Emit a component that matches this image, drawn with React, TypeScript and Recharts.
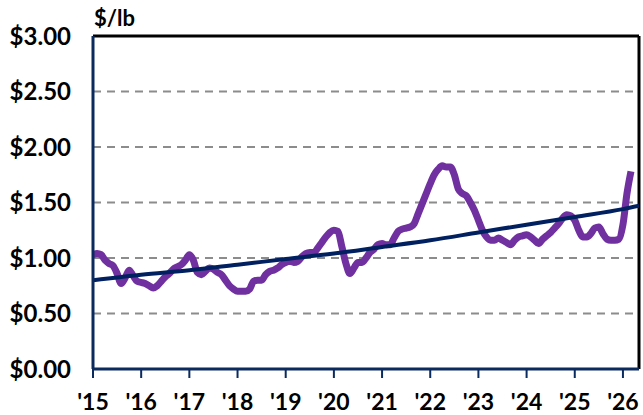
import { LineChart, Line, XAxis, YAxis, CartesianGrid, ReferenceLine } from "recharts";

// monthly price, Jan 2015 .. Mar 2026 ($/lb)
const prices = [
  1.03, 1.04, 1.03, 0.98, 0.95, 0.93, 0.86, 0.77, 0.82, 0.89, 0.84, 0.79,
  0.78, 0.77, 0.75, 0.73, 0.75, 0.79, 0.83, 0.86, 0.9, 0.92, 0.94, 0.98,
  1.03, 0.98, 0.87, 0.85, 0.88, 0.91, 0.9, 0.87, 0.85, 0.8, 0.75, 0.72,
  0.7, 0.7, 0.7, 0.72, 0.79, 0.8, 0.8, 0.85, 0.88, 0.89, 0.91, 0.94,
  0.96, 0.97, 0.96, 0.97, 1.01, 1.04, 1.05, 1.05, 1.09, 1.14, 1.19, 1.23,
  1.25, 1.24, 1.1, 0.95, 0.86, 0.91, 0.96, 0.96, 1.0, 1.05, 1.08, 1.12,
  1.13, 1.12, 1.12, 1.18, 1.24, 1.26, 1.27, 1.28, 1.31, 1.4, 1.49, 1.58,
  1.67, 1.75, 1.8, 1.83, 1.82, 1.82, 1.75, 1.62, 1.58, 1.56, 1.5, 1.43,
  1.34, 1.25, 1.19, 1.16, 1.16, 1.18, 1.16, 1.14, 1.12, 1.16, 1.19, 1.2,
  1.21, 1.19, 1.16, 1.13, 1.17, 1.2, 1.23, 1.27, 1.31, 1.36, 1.39, 1.38,
  1.34, 1.25, 1.19, 1.19, 1.22, 1.27, 1.28, 1.22, 1.17, 1.16, 1.16, 1.17,
  1.3, 1.58, 1.78,
];

// trend line, read at each January plus the right edge
const trendMonths = [0, 12, 24, 36, 48, 60, 72, 84, 96, 108, 120, 132, 136];
const trendValues = [0.8, 0.85, 0.89, 0.94, 0.99, 1.04, 1.1, 1.16, 1.23, 1.3, 1.37, 1.44, 1.47];

const yTicks = [0, 0.5, 1, 1.5, 2, 2.5, 3];
const xTicks = [0, 12, 24, 36, 48, 60, 72, 84, 96, 108, 120, 132];
const yearLabels = ["'15", "'16", "'17", "'18", "'19", "'20", "'21", "'22", "'23", "'24", "'25", "'26"];

const priceData = prices.map((v, i) => ({ m: i, price: v }));
const trendData = trendMonths.map((m, i) => ({ m, trend: trendValues[i] }));

const FONT = "Lato, 'Open Sans', sans-serif";

const YearTick = (props: any) => {
  const { x, y, payload } = props;
  return (
    <text
      x={x}
      y={y}
      dy={32}
      textAnchor="middle"
      fontSize={23}
      fontWeight={700}
      fill="#000"
      fontFamily={FONT}
    >
      {yearLabels[payload.value / 12]}
    </text>
  );
};

export default function App() {
  return (
    <div style={{ position: "absolute", left: 0, top: 0, width: 643, height: 415, background: "#fff", fontFamily: FONT }}>
      <div
        style={{
          position: "absolute",
          left: 94,
          top: 4,
          fontSize: 22,
          fontWeight: 700,
          color: "#000",
        }}
      >
        $/lb
      </div>
      <LineChart width={643} height={415} margin={{ top: 36, right: 4, left: 0, bottom: 0 }}>
        <CartesianGrid
          horizontal
          vertical={false}
          stroke="#8c8c8c"
          strokeWidth={2}
          strokeDasharray="8 6"
        />
        <XAxis
          dataKey="m"
          type="number"
          domain={[0, 136]}
          ticks={xTicks}
          allowDataOverflow
          height={46}
          axisLine={{ stroke: "#0b2a5e", strokeWidth: 3 }}
          tickLine={{ stroke: "#0b2a5e", strokeWidth: 2 }}
          tickSize={9}
          tickMargin={0}
          tick={<YearTick />}
        />
        <YAxis
          domain={[0, 3]}
          ticks={yTicks}
          width={93}
          tickFormatter={(v: number) => `$${v.toFixed(2)}`}
          axisLine={{ stroke: "#0b2a5e", strokeWidth: 3 }}
          tickLine={false}
          tickSize={0}
          tickMargin={22}
          tick={{ fontSize: 24, fontWeight: 700, fill: "#000", fontFamily: FONT }}
        />
        <ReferenceLine y={3} stroke="#000" strokeWidth={3} />
        <ReferenceLine x={136} stroke="#000" strokeWidth={3} />
        <Line
          data={priceData}
          dataKey="price"
          type="monotone"
          stroke="#7030a0"
          strokeWidth={7}
          dot={false}
          isAnimationActive={false}
        />
        <Line
          data={trendData}
          dataKey="trend"
          type="monotone"
          stroke="#002060"
          strokeWidth={4}
          dot={false}
          isAnimationActive={false}
        />
      </LineChart>
    </div>
  );
}
